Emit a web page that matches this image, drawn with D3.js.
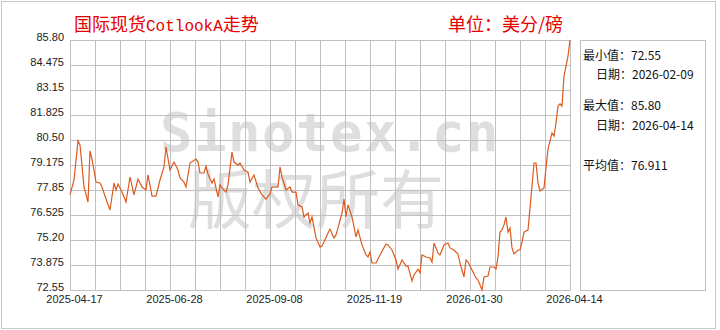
<!DOCTYPE html>
<html>
<head>
<meta charset="utf-8">
<script src="https://cdn.jsdelivr.net/npm/d3@7"></script>
<style>
  body { margin: 0; background: #fff; }
  text { font-family: "Liberation Sans", Arial, sans-serif; }
</style>
</head>
<body>
<div id="viz"></div>
<script>
// trading-day index (0 = 2025-04-17) and price in US cents/lb
var dayIndex = [0, 2, 4, 5, 7, 9, 10, 11, 13, 15, 16, 18, 20, 22, 23, 24, 26, 28, 30, 32,
  34, 36, 38, 39, 41, 43, 45, 47, 48, 50, 52, 54, 55, 57, 58, 60, 63, 64, 65, 67,
  68, 69, 71, 72, 74, 75, 76, 78, 79, 81, 82, 84, 85, 87, 89, 90, 92, 94, 96, 98,
  100, 101, 104, 105, 106, 108, 110, 111, 113, 114, 116, 117, 119, 120, 121, 123, 125, 126, 127, 129,
  130, 132, 133, 134, 136, 137, 138, 139, 141, 143, 144, 146, 148, 149, 150, 151, 153, 155, 158, 159,
  161, 163, 164, 166, 168, 169, 171, 172, 174, 175, 176, 178, 180, 181, 182, 184, 185, 187, 189, 190,
  192, 194, 195, 197, 198, 199, 201, 203, 204, 206, 207, 209, 210, 212, 213, 214, 215, 216, 217, 218,
  219, 220, 221, 222, 224, 225, 226, 227, 229, 230, 231, 232, 233, 234, 235, 237, 238, 239, 240, 241,
  242, 243, 244, 245, 246, 247, 248, 249, 250];

var prices = [77.59, 78.38, 80.46, 80.24, 78.01, 77.21, 79.92, 79.49, 78.27, 78.22, 78.01, 77.37, 76.79, 78.22, 77.85, 78.17, 77.74, 77.21, 78.54, 77.59,
  78.43, 78.01, 77.85, 78.65, 77.53, 77.53, 78.38, 79.07, 80.13, 78.91, 79.33, 78.91, 78.49, 78.27, 78.01, 79.28, 79.49, 79.33, 78.75, 78.75,
  79.12, 78.70, 78.22, 78.43, 77.48, 78.12, 77.96, 77.74, 78.12, 79.86, 79.33, 79.17, 79.28, 78.91, 78.80, 78.27, 78.65, 77.96, 77.59, 77.37,
  77.64, 78.01, 78.01, 79.07, 78.54, 77.85, 78.01, 77.74, 77.74, 77.06, 76.95, 76.42, 76.63, 76.10, 76.42, 75.31, 74.83, 74.88, 75.09, 75.57,
  75.78, 75.31, 75.47, 75.84, 76.63, 77.37, 76.42, 77.06, 76.42, 75.36, 75.73, 74.94, 74.41, 74.30, 74.56, 73.98, 73.98, 74.41, 74.99, 74.94,
  74.67, 74.14, 73.66, 74.14, 73.82, 73.82, 73.03, 73.35, 73.66, 73.45, 74.41, 74.30, 74.25, 74.03, 75.04, 74.51, 74.41, 74.94, 75.04, 74.78,
  74.67, 74.46, 73.98, 73.24, 74.14, 74.03, 73.61, 73.19, 73.08, 72.55, 73.24, 73.29, 73.77, 73.77, 73.66, 74.30, 75.62, 75.73, 76.00, 76.42,
  75.62, 75.84, 74.78, 74.46, 74.67, 74.67, 75.09, 75.62, 75.73, 76.90, 78.06, 79.28, 79.28, 78.22, 77.80, 77.96, 79.02, 80.02, 80.45, 80.87,
  80.71, 81.40, 82.30, 82.41, 82.30, 83.89, 84.42, 84.95, 85.80];

var xLabelIndex = [0, 50, 100, 150, 200, 250];
var xLabels = ["2025-04-17", "2025-06-28", "2025-09-08", "2025-11-19", "2026-01-30", "2026-04-14"];
var yTicks = [72.55, 73.875, 75.20, 76.525, 77.85, 79.175, 80.50, 81.825, 83.15, 84.475, 85.80];
var yLabels = ["72.55", "73.875", "75.20", "76.525", "77.85", "79.175", "80.50", "81.825", "83.15", "84.475", "85.80"];

var statLabels = ["最小值：72.55", "日期：2026-02-09", "最大值：85.80", "日期：2026-04-14", "平均值：76.911"];

var width = 720,
    height = 330;
var margin = {left: 70, top: 40, right: 150, bottom: 40};
var plotW = width - margin.left - margin.right,
    plotH = height - margin.top - margin.bottom;

var svg = d3.select("#viz").append("svg")
    .attr("width", width)
    .attr("height", height);

// outer frame
svg.append("rect")
    .attr("x", 1.5).attr("y", 1.5)
    .attr("width", 714).attr("height", 327)
    .attr("fill", "#fff")
    .attr("stroke", "#c8c8c8");

// titles
var title = svg.append("text")
    .attr("x", 74).attr("y", 31)
    .attr("fill", "#e60000")
    .style("font-size", "18px");
title.append("tspan").style("font-family", "'Noto Sans CJK SC'").text("国际现货");
title.append("tspan").style("font-family", "'Liberation Mono'").style("font-size", "16px").text("CotlookA");
title.append("tspan").style("font-family", "'Noto Sans CJK SC'").text("走势");

svg.append("text")
    .attr("x", 448).attr("y", 31)
    .attr("fill", "#e60000")
    .style("font-family", "'Noto Sans CJK SC'")
    .style("font-size", "18px")
    .text("单位：美分/磅");

var g = svg.append("g")
    .attr("transform", "translate(" + margin.left + "," + margin.top + ")");

var x = d3.scaleLinear().domain([0, 250]).range([0, plotW]);
var y = d3.scaleLinear().domain([72.55, 85.80]).range([plotH, 0]);

// watermark
g.append("text")
    .attr("x", 90).attr("y", 111)
    .attr("fill", "#dedede")
    .style("font-family", "'DejaVu Sans Mono'")
    .style("font-weight", "bold")
    .style("font-size", "54px")
    .style("letter-spacing", "1.5px")
    .text("Sinotex.cn");
g.append("text")
    .attr("x", 118).attr("y", 183)
    .attr("fill", "#dedede")
    .style("font-family", "'Noto Sans CJK SC'")
    .style("font-size", "64px")
    .text("版权所有");

// grid
var gridX = d3.range(0, 250.1, 12.5);
g.append("g")
    .attr("class", "grid")
    .attr("transform", "translate(0," + plotH + ")")
    .call(d3.axisBottom(x).tickValues(gridX).tickSize(-plotH).tickFormat(""));

g.append("g")
    .attr("class", "yaxis")
    .call(d3.axisLeft(y).tickValues(yTicks).tickSize(-plotW).tickPadding(6)
      .tickFormat(function(d, i) { return yLabels[i]; }));

g.selectAll(".grid line, .yaxis line").attr("stroke", "#c0c0c0");
g.selectAll(".grid .domain, .yaxis .domain").attr("stroke", "#c0c0c0");
g.selectAll(".yaxis text")
    .attr("dy", "0")
    .attr("fill", "#222")
    .style("font-size", "11px");

// x labels
g.append("g")
    .attr("class", "xaxis")
    .attr("transform", "translate(0," + plotH + ")")
    .call(d3.axisBottom(x).tickValues(xLabelIndex).tickSize(0).tickPadding(0)
      .tickFormat(function(d, i) { return xLabels[i]; }))
  .call(function(a) { a.select(".domain").remove(); })
  .selectAll("text")
    .attr("x", 4)
    .attr("y", 13)
    .attr("dy", "0")
    .attr("fill", "#222")
    .style("font-size", "11px");

// price line
var line = d3.line()
    .x(function(d, i) { return x(dayIndex[i]); })
    .y(function(d) { return y(d); });

g.append("path")
    .datum(prices)
    .attr("fill", "none")
    .attr("stroke", "#dc5a1e")
    .attr("stroke-width", 1.2)
    .attr("d", line);

// stats box
svg.append("rect")
    .attr("x", 580.5).attr("y", 40.5)
    .attr("width", 125).attr("height", 250)
    .attr("fill", "none")
    .attr("stroke", "#c0c0c0");

var statPos = [[583, 60], [596, 79], [583, 110], [596, 130], [583, 170]];
svg.selectAll(".stat")
    .data(statLabels)
  .enter().append("text")
    .attr("class", "stat")
    .attr("x", function(d, i) { return statPos[i][0]; })
    .attr("y", function(d, i) { return statPos[i][1]; })
    .attr("fill", "#111")
    .style("font-family", "'Noto Sans CJK SC'")
    .style("font-size", "12px")
    .text(function(d) { return d; });
</script>
</body>
</html>
